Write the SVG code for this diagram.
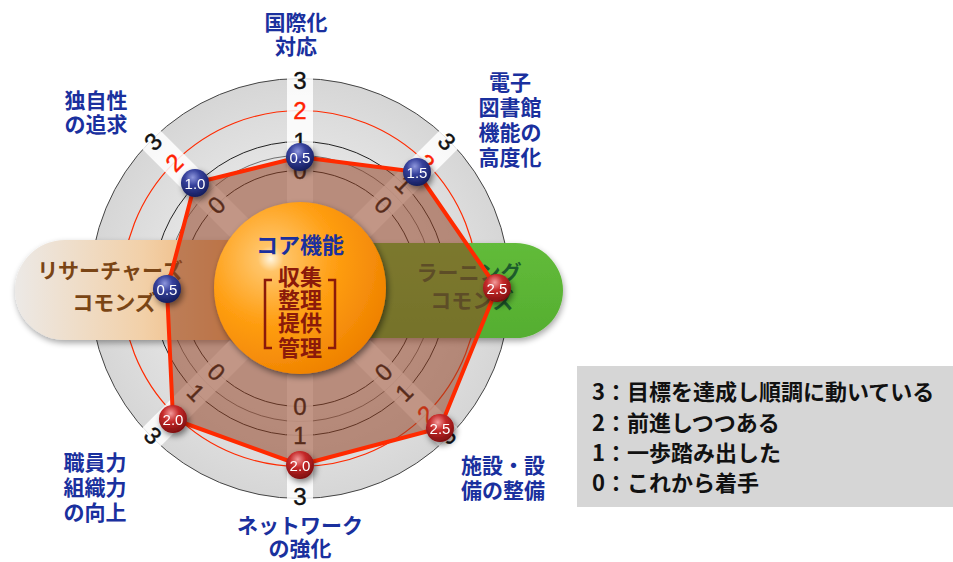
<svg xmlns="http://www.w3.org/2000/svg" width="953" height="562" viewBox="0 0 953 562">
<defs>
  <radialGradient id="disk" cx="0.5" cy="0.5" r="0.5">
    <stop offset="0.55" stop-color="#e6e6e6"/>
    <stop offset="1" stop-color="#d6d6d6"/>
  </radialGradient>
  <linearGradient id="pillL" x1="15" y1="0" x2="300" y2="0" gradientUnits="userSpaceOnUse">
    <stop offset="0" stop-color="#ece9e6"/>
    <stop offset="0.45" stop-color="#f2d0a8"/>
    <stop offset="1" stop-color="#ec9640"/>
  </linearGradient>
  <linearGradient id="pillR" x1="0" y1="0" x2="0" y2="1">
    <stop offset="0" stop-color="#62bb3a"/>
    <stop offset="1" stop-color="#55ae30"/>
  </linearGradient>
  <radialGradient id="core" cx="0.33" cy="0.33" r="0.75">
    <stop offset="0" stop-color="#fff6e0"/>
    <stop offset="0.1" stop-color="#ffc468"/>
    <stop offset="0.5" stop-color="#ff9e12"/>
    <stop offset="1" stop-color="#ee8000"/>
  </radialGradient>
  <radialGradient id="ptB" cx="0.42" cy="0.3" r="0.75">
    <stop offset="0" stop-color="#8d96dc"/>
    <stop offset="0.38" stop-color="#36419c"/>
    <stop offset="1" stop-color="#111955"/>
  </radialGradient>
  <radialGradient id="ptR" cx="0.42" cy="0.3" r="0.75">
    <stop offset="0" stop-color="#f29a9a"/>
    <stop offset="0.38" stop-color="#c62a2a"/>
    <stop offset="1" stop-color="#760b0b"/>
  </radialGradient>
  <filter id="sh" x="-50%" y="-50%" width="200%" height="200%">
    <feGaussianBlur in="SourceAlpha" stdDeviation="3"/>
    <feOffset dx="2" dy="3"/>
    <feComponentTransfer><feFuncA type="linear" slope="0.5"/></feComponentTransfer>
    <feMerge><feMergeNode/><feMergeNode in="SourceGraphic"/></feMerge>
  </filter>
  <filter id="shs" x="-20%" y="-30%" width="140%" height="160%">
    <feGaussianBlur in="SourceAlpha" stdDeviation="3"/>
    <feOffset dx="1" dy="3"/>
    <feComponentTransfer><feFuncA type="linear" slope="0.35"/></feComponentTransfer>
    <feMerge><feMergeNode/><feMergeNode in="SourceGraphic"/></feMerge>
  </filter>
  <style>
    .ring{fill:none;stroke:#222;stroke-width:1}
    .ringR{fill:none;stroke:#ff2a00;stroke-width:1.2}
    .band{fill:#ffffff;fill-opacity:0.85}
    .sc{font-family:"Liberation Sans","Noto Sans",sans-serif;font-size:24px;text-anchor:middle;dominant-baseline:central;fill:#111;stroke:#111;stroke-width:0.4}
    .sc2{fill:#ff2200;stroke:#ff2200}
    .pl{font-family:"Noto Sans CJK JP",sans-serif;font-size:21px;font-weight:bold;text-anchor:middle}
    .ax{font-family:"Noto Sans CJK JP",sans-serif;font-size:21px;font-weight:bold;text-anchor:middle;fill:#1a309e}
    .core{font-family:"Noto Sans CJK JP",sans-serif;font-size:22px;font-weight:bold;text-anchor:middle}
    .pt text{font-family:"Liberation Sans","Noto Sans",sans-serif;font-size:15px;fill:#fff;text-anchor:middle}
    .lg{font-family:"Noto Sans CJK JP",sans-serif;font-size:22px;font-weight:bold;fill:#111}
  </style>
</defs>

<g id="chart-base">
  <circle cx="300" cy="288.5" r="210" fill="url(#disk)" stroke="#444" stroke-width="1"/>
  <circle class="ring" cx="300" cy="288.5" r="118"/>
  <circle class="ring" cx="300" cy="288.5" r="133" stroke-opacity="0.6"/>
  <circle class="ring" cx="300" cy="288.5" r="147"/>
  <circle class="ringR" cx="300" cy="288.5" r="178"/>
</g>

<g id="pill-research" filter="url(#shs)">
  <path d="M300,240 H65 A50,50 0 0 0 65,340 H300 Z" fill="url(#pillL)"/>
</g>
<g id="pill-learning" filter="url(#shs)">
  <path d="M300,243 H515.5 A47.5,47.5 0 0 1 515.5,338 H300 Z" fill="url(#pillR)"/>
</g>

<g id="bands" transform="translate(300,288.5)">
  <rect class="band" x="-13" y="-214" width="26" height="128"/>
  <rect class="band" x="-13" y="-214" width="26" height="128" transform="rotate(45)"/>
  <rect class="band" x="-13" y="-214" width="26" height="128" transform="rotate(135)"/>
  <rect class="band" x="-13" y="-214" width="26" height="128" transform="rotate(180)"/>
  <rect class="band" x="-13" y="-214" width="26" height="128" transform="rotate(225)"/>
  <rect class="band" x="-13" y="-214" width="26" height="128" transform="rotate(315)"/>
</g>

<g id="scale-labels" transform="translate(300,288.5)">
  <g transform="rotate(0)">
    <text class="sc" x="0" y="-118">0</text><text class="sc" x="0" y="-147">1</text><text class="sc sc2" x="0" y="-178">2</text><text class="sc" x="0" y="-208">3</text>
  </g>
  <g transform="rotate(45)">
    <text class="sc" x="0" y="-118">0</text><text class="sc" x="0" y="-147">1</text><text class="sc sc2" x="0" y="-178">2</text><text class="sc" x="0" y="-208">3</text>
  </g>
  <g transform="rotate(315)">
    <text class="sc" x="0" y="-118">0</text><text class="sc" x="0" y="-147">1</text><text class="sc sc2" x="0" y="-178">2</text><text class="sc" x="0" y="-208">3</text>
  </g>
  <g transform="rotate(135)">
    <text class="sc" x="0" y="-118" transform="rotate(180 0 -118)">0</text><text class="sc" x="0" y="-147" transform="rotate(180 0 -147)">1</text><text class="sc sc2" x="0" y="-178" transform="rotate(180 0 -178)">2</text><text class="sc" x="0" y="-208" transform="rotate(180 0 -208)">3</text>
  </g>
  <g transform="rotate(180)">
    <text class="sc" x="0" y="-118" transform="rotate(180 0 -118)">0</text><text class="sc" x="0" y="-147" transform="rotate(180 0 -147)">1</text><text class="sc sc2" x="0" y="-178" transform="rotate(180 0 -178)">2</text><text class="sc" x="0" y="-208" transform="rotate(180 0 -208)">3</text>
  </g>
  <g transform="rotate(225)">
    <text class="sc" x="0" y="-118" transform="rotate(180 0 -118)">0</text><text class="sc" x="0" y="-147" transform="rotate(180 0 -147)">1</text><text class="sc sc2" x="0" y="-178" transform="rotate(180 0 -178)">2</text><text class="sc" x="0" y="-208" transform="rotate(180 0 -208)">3</text>
  </g>
</g>

<g id="pill-texts">
  <text class="pl" x="110" y="278" fill="#7a4515">リサーチャーズ</text>
  <text class="pl" x="114" y="310" fill="#7a4515">コモンズ</text>
  <text class="pl" x="469" y="280" fill="#1d5c2c">ラーニング</text>
  <text class="pl" x="472" y="308" fill="#1d5c2c">コモンズ</text>
</g>

<g id="connectors">
  <polygon points="300,157 417,172 497,288 440,428 300,465 173,419 167,289 195,183" fill="#914124" fill-opacity="0.55"/>
  <polygon points="300,157 417,172 497,288 440,428 300,465 173,419 167,289 195,183" fill="none" stroke="#ff2a00" stroke-width="4" stroke-linejoin="round"/>
</g>

<g id="core">
  <circle cx="300" cy="288" r="86" fill="url(#core)" filter="url(#sh)"/>
  <text class="core" x="300" y="253" fill="#1a309e">コア機能</text>
  <text class="core" x="300" y="285" fill="#8b1a0a">収集</text>
  <text class="core" x="300" y="308" fill="#8b1a0a">整理</text>
  <text class="core" x="300" y="331" fill="#8b1a0a">提供</text>
  <text class="core" x="300" y="356" fill="#8b1a0a">管理</text>
  <path d="M272,280 H265 V348 H272 M328,280 H335 V348 H328" fill="none" stroke="#8b1a0a" stroke-width="2.5"/>
</g>

<g id="pt-top" class="pt" filter="url(#sh)"><circle cx="300" cy="157" r="14" fill="url(#ptB)"/><text x="300" y="162.5">0.5</text></g>
<g id="pt-topright" class="pt" filter="url(#sh)"><circle cx="417" cy="172" r="14" fill="url(#ptB)"/><text x="417" y="177.5">1.5</text></g>
<g id="pt-right" class="pt" filter="url(#sh)"><circle cx="497" cy="288" r="14" fill="url(#ptR)"/><text x="497" y="293.5">2.5</text></g>
<g id="pt-bottomright" class="pt" filter="url(#sh)"><circle cx="440" cy="428" r="14" fill="url(#ptR)"/><text x="440" y="433.5">2.5</text></g>
<g id="pt-bottom" class="pt" filter="url(#sh)"><circle cx="300" cy="465" r="14" fill="url(#ptR)"/><text x="300" y="470.5">2.0</text></g>
<g id="pt-bottomleft" class="pt" filter="url(#sh)"><circle cx="173" cy="419" r="14" fill="url(#ptR)"/><text x="173" y="424.5">2.0</text></g>
<g id="pt-left" class="pt" filter="url(#sh)"><circle cx="167" cy="289" r="14" fill="url(#ptB)"/><text x="167" y="294.5">0.5</text></g>
<g id="pt-topleft" class="pt" filter="url(#sh)"><circle cx="195" cy="183" r="14" fill="url(#ptB)"/><text x="195" y="188.5">1.0</text></g>

<g id="label-intl"><text class="ax" x="296" y="30">国際化</text><text class="ax" x="296" y="54">対応</text></g>
<g id="label-digital"><text class="ax" x="510" y="90">電子</text><text class="ax" x="510" y="115">図書館</text><text class="ax" x="510" y="140">機能の</text><text class="ax" x="510" y="165">高度化</text></g>
<g id="label-unique"><text class="ax" x="96" y="108">独自性</text><text class="ax" x="96" y="132">の追求</text></g>
<g id="label-staff"><text class="ax" x="95" y="470">職員力</text><text class="ax" x="95" y="495">組織力</text><text class="ax" x="95" y="520">の向上</text></g>
<g id="label-network"><text class="ax" x="300" y="533">ネットワーク</text><text class="ax" x="300" y="556">の強化</text></g>
<g id="label-facility"><text class="ax" x="503" y="473">施設・設</text><text class="ax" x="503" y="498">備の整備</text></g>

<g id="legend">
  <rect x="577" y="366" width="376" height="141" fill="#d6d6d6"/>
  <text class="lg" x="592" y="400">3：目標を達成し順調に動いている</text>
  <text class="lg" x="592" y="431">2：前進しつつある</text>
  <text class="lg" x="592" y="461">1：一歩踏み出した</text>
  <text class="lg" x="592" y="491">0：これから着手</text>
</g>
</svg>
